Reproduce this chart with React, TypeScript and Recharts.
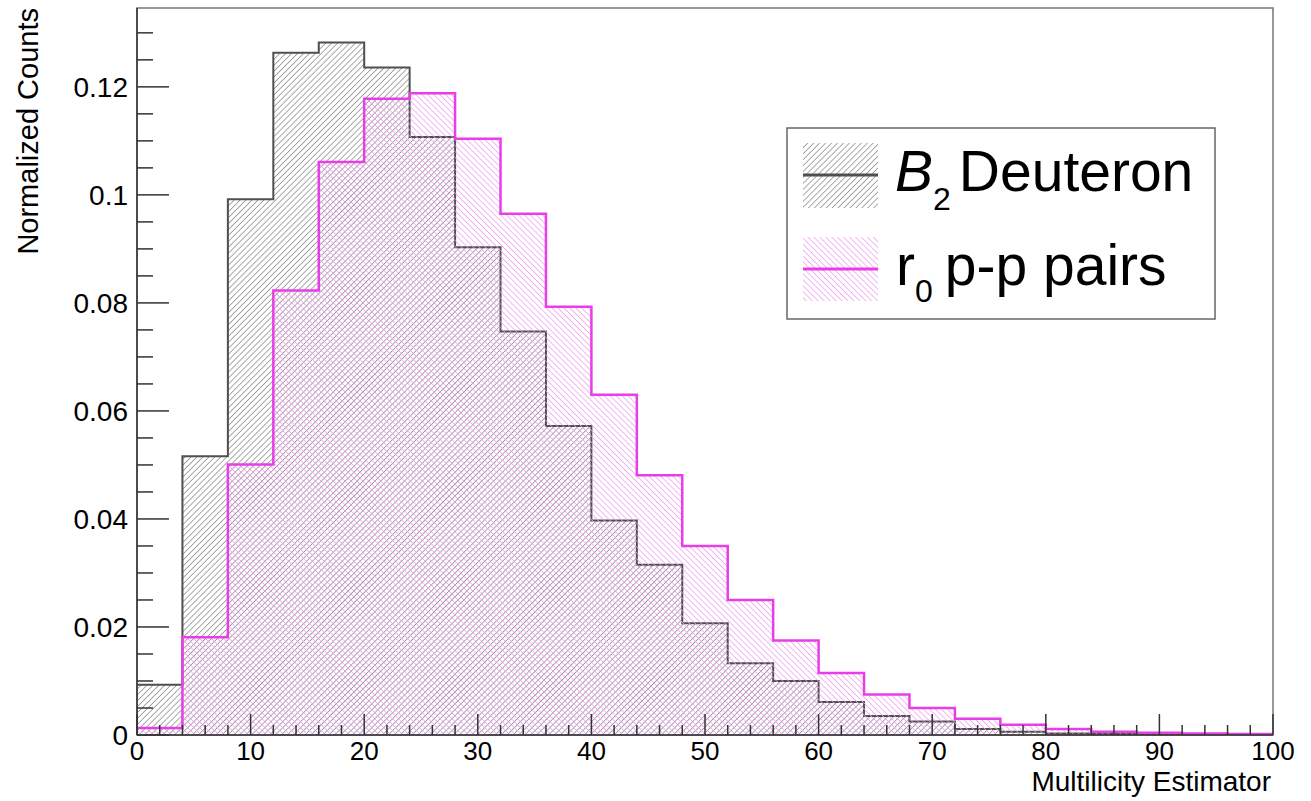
import { ComposedChart, Area, XAxis, YAxis, ReferenceArea } from 'recharts';

// bin lower edges (width 4) of the multiplicity histogram
const binLow = [0, 4, 8, 12, 16, 20, 24, 28, 32, 36, 40, 44, 48, 52, 56, 60, 64, 68, 72, 76, 80, 84, 88, 92, 96];
const binEnd = 100;

// B2 deuteron, normalized counts per bin
const deuteron = [
  0.0093, 0.0516, 0.0992, 0.1263, 0.1282, 0.1236, 0.1107, 0.0903, 0.0747, 0.0572, 0.0397, 0.0315, 0.0207,
  0.0133, 0.01, 0.0061, 0.0035, 0.0025, 0.0011, 0.0006, 0.0003, 0.0002, 0.0001, 0.0001, 0.0,
];

// r0 p-p pairs, normalized counts per bin
const ppPairs = [
  0.0013, 0.0181, 0.0501, 0.0823, 0.1061, 0.1178, 0.1188, 0.1104, 0.0965, 0.0793, 0.063, 0.0481, 0.035,
  0.025, 0.0175, 0.0115, 0.0075, 0.005, 0.003, 0.0019, 0.0011, 0.0006, 0.0004, 0.0003, 0.0002,
];

const xTicks = [0, 2, 4, 6, 8, 10, 12, 14, 16, 18, 20, 22, 24, 26, 28, 30, 32, 34, 36, 38, 40, 42, 44, 46, 48, 50,
  52, 54, 56, 58, 60, 62, 64, 66, 68, 70, 72, 74, 76, 78, 80, 82, 84, 86, 88, 90, 92, 94, 96, 98, 100];
const xMajor = [0, 10, 20, 30, 40, 50, 60, 70, 80, 90, 100];
const xLabels = ['0', '10', '20', '30', '40', '50', '60', '70', '80', '90', '100'];

const yTicks = [0, 0.005, 0.01, 0.015, 0.02, 0.025, 0.03, 0.035, 0.04, 0.045, 0.05, 0.055, 0.06, 0.065, 0.07,
  0.075, 0.08, 0.085, 0.09, 0.095, 0.1, 0.105, 0.11, 0.115, 0.12, 0.125, 0.13];
const yMajor = [0, 0.02, 0.04, 0.06, 0.08, 0.1, 0.12];
const yLabels = ['0', '0.02', '0.04', '0.06', '0.08', '0.1', '0.12'];
const yMax = 0.1346;

const FONT = '"Liberation Sans", Arial, Helvetica, sans-serif';
const AXIS = '#333333';
const DEUT_LINE = '#4f4f4f';
const PP_LINE = '#e83ee8';

// step histograms: one point per bin start, plus the closing edge
const data = [...binLow, binEnd].map((x, i) => ({
  x,
  d: deuteron[Math.min(i, deuteron.length - 1)],
  p: ppPairs[Math.min(i, ppPairs.length - 1)],
}));

const findMajor = (list: number[], v: number) => list.findIndex((m) => Math.abs(m - v) < 1e-9);

// ROOT style: ticks point into the frame, labels only on major ticks
const XTick = (props: any) => {
  const { x, y, payload } = props;
  const idx = findMajor(xMajor, payload.value);
  const major = idx >= 0;
  return (
    <g>
      <line x1={x} x2={x} y1={y} y2={y - (major ? 21 : 10)} stroke={AXIS} strokeWidth={1.5} />
      {major && (
        <text x={x} y={y + 25} textAnchor="middle" fontSize={26} fontFamily={FONT} fill="#000">
          {xLabels[idx]}
        </text>
      )}
    </g>
  );
};

const YTick = (props: any) => {
  const { x, y, payload } = props;
  const idx = findMajor(yMajor, payload.value);
  const major = idx >= 0;
  return (
    <g>
      <line x1={x} x2={x + (major ? 32 : 16)} y1={y} y2={y} stroke={AXIS} strokeWidth={1.5} />
      {major && (
        <text x={x - 9} y={y + 10} textAnchor="end" fontSize={28} fontFamily={FONT} fill="#000">
          {yLabels[idx]}
        </text>
      )}
    </g>
  );
};

const Hatches = ({ prefix }: { prefix: string }) => (
  <defs>
    <pattern id={`${prefix}-dark`} width={4.2} height={4.2} patternUnits="userSpaceOnUse" patternTransform="rotate(45)">
      <line x1={0} y1={0} x2={0} y2={4.2} stroke="#626262" strokeWidth={1.1} />
    </pattern>
    <pattern id={`${prefix}-pink`} width={4.2} height={4.2} patternUnits="userSpaceOnUse" patternTransform="rotate(-45)">
      <line x1={0} y1={0} x2={0} y2={4.2} stroke="#ee98ee" strokeWidth={1.4} />
    </pattern>
  </defs>
);

const LegendBox = () => (
  <svg width={1311} height={801} style={{ position: 'absolute', left: 0, top: 0, pointerEvents: 'none' }}>
    <Hatches prefix="leg" />
    <rect x={787} y={128} width={428} height={191} fill="#fff" stroke="#666" strokeWidth={1.5} />
    <rect x={803} y={143} width={75} height={65} fill="url(#leg-dark)" />
    <line x1={803} x2={878} y1={175} y2={175} stroke={DEUT_LINE} strokeWidth={3} />
    <rect x={803} y={237} width={75} height={64} fill="url(#leg-pink)" />
    <line x1={803} x2={878} y1={269} y2={269} stroke={PP_LINE} strokeWidth={3} />
    <g fontFamily={FONT} fill="#000">
      <text x={895} y={191} fontSize={57}>
        <tspan fontStyle="italic">B</tspan>
        <tspan fontSize={32} dy={19}>2</tspan>
        <tspan dx={8} dy={-19}>Deuteron</tspan>
      </text>
      <text x={896} y={285} fontSize={57}>
        r<tspan fontSize={32} dy={17}>0</tspan>
        <tspan dx={12} dy={-17}>p-p pairs</tspan>
      </text>
    </g>
  </svg>
);

export default function App() {
  return (
    <div style={{ position: 'absolute', left: 0, top: 0, width: 1311, height: 801, background: '#fff' }}>
      <ComposedChart width={1311} height={801} data={data} margin={{ top: 8, right: 38, bottom: 0, left: 0 }}>
        <Hatches prefix="plot" />
        <ReferenceArea x1={0} x2={binEnd} y1={0} y2={yMax} fill="none" stroke="#777" strokeWidth={1.5} ifOverflow="visible" />
        <XAxis
          dataKey="x"
          type="number"
          domain={[0, binEnd]}
          ticks={xTicks}
          interval={0}
          height={66}
          tickSize={0}
          tickMargin={0}
          tickLine={false}
          tick={<XTick />}
          axisLine={{ stroke: AXIS, strokeWidth: 1.5 }}
          allowDataOverflow
        />
        <YAxis
          type="number"
          domain={[0, yMax]}
          ticks={yTicks}
          interval={0}
          width={137}
          tickSize={0}
          tickMargin={0}
          tickLine={false}
          tick={<YTick />}
          axisLine={{ stroke: AXIS, strokeWidth: 1.5 }}
          allowDataOverflow
        />
        <Area
          type="stepAfter"
          dataKey="d"
          stroke={DEUT_LINE}
          strokeWidth={2}
          fill="url(#plot-dark)"
          fillOpacity={1}
          dot={false}
          activeDot={false}
          isAnimationActive={false}
        />
        <Area
          type="stepAfter"
          dataKey="p"
          stroke={PP_LINE}
          strokeWidth={2.5}
          fill="url(#plot-pink)"
          fillOpacity={1}
          dot={false}
          activeDot={false}
          isAnimationActive={false}
        />
        <text x={1271} y={791} textAnchor="end" fontSize={28} fontFamily={FONT} fill="#000">
          Multilicity Estimator
        </text>
        <text x={38} y={8} transform="rotate(-90 38 8)" textAnchor="end" fontSize={29} fontFamily={FONT} fill="#000">
          Normalized Counts
        </text>
      </ComposedChart>
      <LegendBox />
    </div>
  );
}
